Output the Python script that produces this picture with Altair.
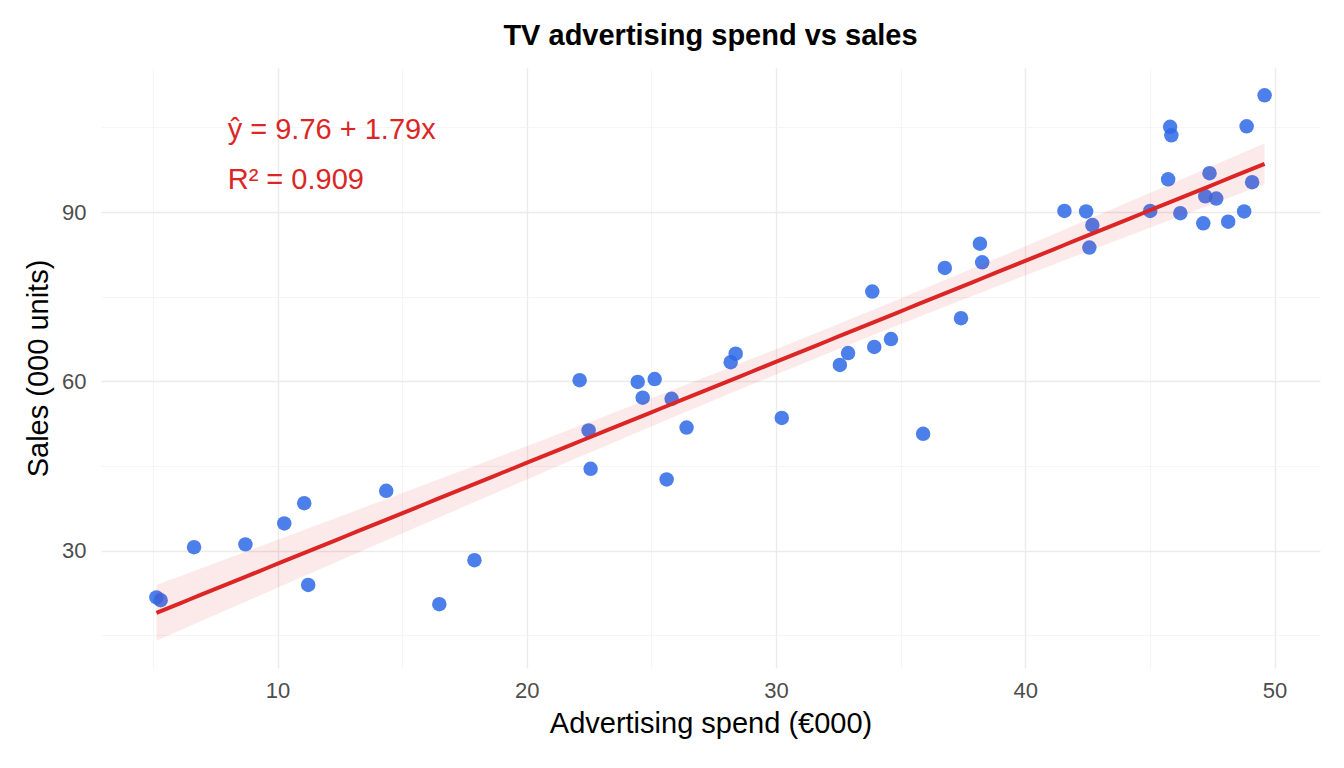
import altair as alt
import numpy as np
import pandas as pd

# Advertising spend (€000) and sales (000 units) per observation
ad_spend = [5.14, 5.31, 6.65, 8.71, 10.27, 11.07, 11.23, 14.36, 16.49, 17.90,
            22.12, 22.48, 22.56, 24.45, 24.65, 25.13, 25.61, 25.81, 26.41, 28.18,
            28.38, 30.23, 32.56, 32.89, 33.86, 33.94, 34.61, 35.90, 36.77, 37.42,
            38.18, 38.27, 41.57, 42.44, 42.57, 42.69, 45.01, 45.73, 45.81, 45.86,
            46.22, 47.14, 47.22, 47.39, 47.66, 48.14, 48.78, 48.88, 49.10, 49.60]
sales = [21.7, 21.2, 30.6, 31.1, 34.8, 38.4, 23.9, 40.6, 20.5, 28.3,
         60.2, 51.3, 44.5, 59.9, 57.1, 60.4, 42.6, 56.9, 51.8, 63.4,
         64.9, 53.5, 62.9, 65.0, 75.9, 66.1, 67.5, 50.7, 80.1, 71.2,
         84.4, 81.1, 90.2, 90.1, 83.7, 87.7, 90.2, 95.8, 105.1, 103.6,
         89.8, 88.0, 92.8, 96.9, 92.4, 88.3, 90.1, 105.2, 95.3, 110.7]

# Fitted model
intercept = 9.76
slope = 1.79
r_squared = 0.909
t_crit = 2.011  # t(0.975, 48)

x = np.array(ad_spend)
y = np.array(sales)
n = len(x)
resid = y - (intercept + slope * x)
s = np.sqrt((resid ** 2).sum() / (n - 2))
xbar = x.mean()
sxx = ((x - xbar) ** 2).sum()
grid = np.linspace(x.min(), x.max(), 100)
fit = intercept + slope * grid
se = s * np.sqrt(1 / n + (grid - xbar) ** 2 / sxx)
fit_df = pd.DataFrame({"spend": grid, "fit": fit,
                       "lo": fit - t_crit * se, "hi": fit + t_crit * se})
pts = pd.DataFrame({"spend": ad_spend, "sales": sales})

# ggplot-style 5% expansion of the data range
xlo, xhi = x.min(), x.max()
xpad = 0.05 * (xhi - xlo)
ylo = min(y.min(), fit_df["lo"].min())
yhi = max(y.max(), fit_df["hi"].max())
ypad = 0.05 * (yhi - ylo)
xs = alt.Scale(domain=[xlo - xpad, xhi + xpad], nice=False, zero=False)
ys = alt.Scale(domain=[ylo - ypad, yhi + ypad], nice=False, zero=False)

FONT = "Liberation Sans"
RED = "#dc2626"

common_axis = dict(domain=False, ticks=False, labelFont=FONT, labelFontSize=22,
                   labelColor="#4d4d4d", titleFont=FONT, titleFontSize=29,
                   titleFontWeight="normal", titleColor="#000000")

xaxis = alt.Axis(
    values=list(range(5, 51, 5)),
    labelExpr="datum.value % 10 === 0 ? datum.label : ''",
    gridColor={"condition": {"test": "datum.value % 10 === 0", "value": "#ebebeb"}, "value": "#f2f2f2"},
    gridWidth={"condition": {"test": "datum.value % 10 === 0", "value": 1.4}, "value": 0.8},
    title="Advertising spend (€000)", labelPadding=12, titlePadding=8,
    **common_axis,
)
yaxis = alt.Axis(
    values=list(range(15, 106, 15)),
    labelExpr="datum.value % 30 === 0 ? datum.label : ''",
    gridColor={"condition": {"test": "datum.value % 30 === 0", "value": "#ebebeb"}, "value": "#f2f2f2"},
    gridWidth={"condition": {"test": "datum.value % 30 === 0", "value": 1.4}, "value": 0.8},
    title="Sales (000 units)", labelPadding=15, titlePadding=8,
    **common_axis,
)

points = alt.Chart(pts).mark_circle(size=210, color="#2e69e8", opacity=0.85).encode(
    x=alt.X("spend:Q", scale=xs, axis=xaxis),
    y=alt.Y("sales:Q", scale=ys, axis=yaxis),
)

band = alt.Chart(fit_df).mark_area(color="#e31a1c", opacity=0.09).encode(
    x=alt.X("spend:Q", scale=xs), y=alt.Y("lo:Q", scale=ys), y2="hi:Q"
)

line = alt.Chart(fit_df).mark_line(color=RED, strokeWidth=4).encode(
    x=alt.X("spend:Q", scale=xs), y=alt.Y("fit:Q", scale=ys)
)

labels = pd.DataFrame({
    "spend": [8.0, 8.0],
    "sales": [102.9, 94.1],
    "text": [f"ŷ = {intercept:.2f} + {slope:.2f}x", f"R² = {r_squared:.3f}"],
})
annot = alt.Chart(labels).mark_text(
    align="left", baseline="alphabetic", fontSize=29, font=FONT, color=RED
).encode(x=alt.X("spend:Q", scale=xs), y=alt.Y("sales:Q", scale=ys), text="text:N")

chart = alt.layer(points, band, line, annot).properties(
    width=1219, height=600,
    title=alt.TitleParams("TV advertising spend vs sales", font=FONT, fontSize=29,
                          fontWeight="bold", color="#000000", anchor="middle",
                          frame="group", baseline="bottom", offset=14, dy=26),
    autosize=alt.AutoSizeParams(type="none"),
    padding={"left": 101, "top": 68, "right": 24, "bottom": 100},
).configure(background="white").configure_view(stroke=None, strokeWidth=0)

chart.save("out.html", embed_options={"renderer": "svg", "actions": False})
